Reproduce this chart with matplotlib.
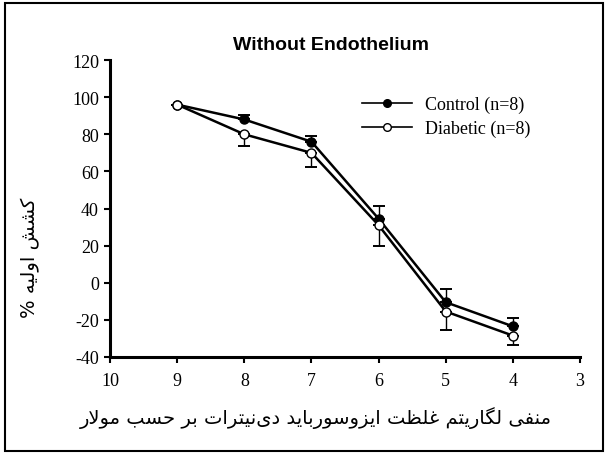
import matplotlib.pyplot as plt
from matplotlib.patches import Rectangle
from matplotlib.lines import Line2D

plt.rcParams['axes.unicode_minus'] = False

# -log molar concentration
x_vals = [9, 8, 7, 6, 5, 4]

control = [96, 88, 76, 34.5, -10.5, -23.5]
control_err = [0, 2.5, 3, 7, 7, 4.5]

diabetic = [96, 80, 70, 31, -15.5, -28.5]
diabetic_err = [0, 6.5, 7.5, 11, 10, 5]

x_ticks = [10, 9, 8, 7, 6, 5, 4, 3]
y_ticks = [-40, -20, 0, 20, 40, 60, 80, 100, 120]

title = "Without Endothelium"
xlabel_fa = "منفی لگاریتم غلظت ایزوسورباید دی\u200cنیترات بر حسب مولار"
ylabel_fa = "کشش اولیه %"
labels = ["Control (n=8)", "Diabetic (n=8)"]

# matplotlib has no Arabic shaping, so join the letters by hand
FORMS = {
    'ا': ('\uFE8D', '\uFE8E', None, None),
    'ب': ('\uFE8F', '\uFE90', '\uFE91', '\uFE92'),
    'ت': ('\uFE95', '\uFE96', '\uFE97', '\uFE98'),
    'ح': ('\uFEA1', '\uFEA2', '\uFEA3', '\uFEA4'),
    'د': ('\uFEA9', '\uFEAA', None, None),
    'ر': ('\uFEAD', '\uFEAE', None, None),
    'ز': ('\uFEAF', '\uFEB0', None, None),
    'س': ('\uFEB1', '\uFEB2', '\uFEB3', '\uFEB4'),
    'ش': ('\uFEB5', '\uFEB6', '\uFEB7', '\uFEB8'),
    'ظ': ('\uFEC5', '\uFEC6', '\uFEC7', '\uFEC8'),
    'غ': ('\uFECD', '\uFECE', '\uFECF', '\uFED0'),
    'ف': ('\uFED1', '\uFED2', '\uFED3', '\uFED4'),
    'ل': ('\uFEDD', '\uFEDE', '\uFEDF', '\uFEE0'),
    'م': ('\uFEE1', '\uFEE2', '\uFEE3', '\uFEE4'),
    'ن': ('\uFEE5', '\uFEE6', '\uFEE7', '\uFEE8'),
    'ه': ('\uFEE9', '\uFEEA', '\uFEEB', '\uFEEC'),
    'و': ('\uFEED', '\uFEEE', None, None),
    'ک': ('\uFB8E', '\uFB8F', '\uFB90', '\uFB91'),
    'گ': ('\uFB92', '\uFB93', '\uFB94', '\uFB95'),
    'ی': ('\uFBFC', '\uFBFD', '\uFBFE', '\uFBFF'),
    '\x01': ('\uFEFB', '\uFEFC', None, None),  # lam-alef
}


def shape(text):
    text = text.replace('لا', '\x01')
    out = []
    chars = list(text)
    for i, c in enumerate(chars):
        if c not in FORMS:
            if c != '\u200c':
                out.append(c)
            continue
        prev = chars[i - 1] if i > 0 else ''
        nxt = chars[i + 1] if i + 1 < len(chars) else ''
        join_prev = prev in FORMS and FORMS[prev][2] is not None
        join_next = nxt in FORMS and FORMS[c][2] is not None
        iso, fin, ini, med = FORMS[c]
        if join_prev and join_next:
            out.append(med)
        elif join_prev:
            out.append(fin)
        elif join_next:
            out.append(ini)
        else:
            out.append(iso)
    return ''.join(out)[::-1]


fig = plt.figure(figsize=(6.08, 4.56), dpi=100)
fig.patches.append(Rectangle((0.009, 0.009), 0.982, 0.982, transform=fig.transFigure,
                             fill=False, edgecolor='black', linewidth=1.5))

ax = fig.add_axes([0.181, 0.215, 0.773, 0.651])

ax.errorbar(x_vals, control, yerr=[[0] * len(control_err), control_err],
            color='black', marker='o', markersize=6.5, mfc='black', mec='black',
            linewidth=1.8, elinewidth=1, capsize=4, capthick=1.4)
ax.errorbar(x_vals, diabetic, yerr=[diabetic_err, [0] * len(diabetic_err)],
            color='black', marker='o', markersize=6.5, mfc='white', mec='black',
            linewidth=1.8, elinewidth=1, capsize=4, capthick=1.4)

ax.set_xlim(10, 3)
ax.set_ylim(-40, 120)
ax.set_xticks(x_ticks)
ax.set_yticks(y_ticks)
for s in ['top', 'right']:
    ax.spines[s].set_visible(False)
for s in ['left', 'bottom']:
    ax.spines[s].set_linewidth(2.2)
ax.tick_params(direction='out', length=4, width=1.5, labelsize=13, pad=4)
ax.tick_params(axis='x', pad=7)
for lab in ax.get_xticklabels() + ax.get_yticklabels():
    lab.set_fontfamily('Liberation Serif')

fig.text(0.545, 0.9, title, ha='center', va='center', fontsize=14,
         fontweight='bold', family='Liberation Sans')

handles = [
    Line2D([], [], color='black', marker='o', mfc='black', mec='black', markersize=5.5, linewidth=1.2),
    Line2D([], [], color='black', marker='o', mfc='white', mec='black', markersize=5.5, linewidth=1.2),
]
ax.legend(handles, labels, loc='upper left', bbox_to_anchor=(0.58, 0.808),
          bbox_transform=fig.transFigure, borderpad=0, frameon=False,
          handlelength=2.8, handletextpad=0.7, labelspacing=0.4,
          prop={'family': 'Liberation Serif', 'size': 13})

fig.text(0.52, 0.083, shape(xlabel_fa), ha='center', va='center', fontsize=14,
         family='DejaVu Sans')
fig.text(0.05, 0.434, shape(ylabel_fa), ha='center', va='center', fontsize=14,
         rotation=90, family='DejaVu Sans')

fig.savefig('out.png', dpi=100)
